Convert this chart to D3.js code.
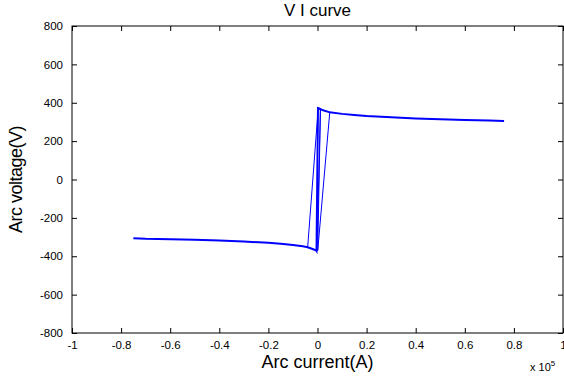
<!DOCTYPE html>
<html>
<head>
<meta charset="utf-8">
<script src="https://cdn.jsdelivr.net/npm/d3@7"></script>
<style>
  body { margin: 0; background: #fff; }
  text { font-family: Arial, "Liberation Sans", sans-serif; }
</style>
</head>
<body>
<div id="chart"></div>
<script>
// data (current in units of 1e5 A, voltage in V)
var branchCurrent = [-0.75, -0.7, -0.6, -0.5, -0.4, -0.3, -0.2, -0.15, -0.1, -0.06, -0.04, -0.02, -0.005,
  -0.004, 0.002, 0.005, 0.02, 0.05, 0.1, 0.15, 0.2, 0.3, 0.4, 0.5, 0.6, 0.7, 0.76];
var branchVoltage = [-306, -309, -311, -314, -318, -323, -330, -335, -341, -348, -353, -362, -370,
  -372, 372, 371, 362, 350, 342, 336, 331, 324, 318, 314, 310, 308, 305];
var riseCurrent = [-0.04, 0.003];
var riseVoltage = [-352, 372];
var fallCurrent = [0.05, 0.001, 0.012, -0.002];
var fallVoltage = [351, -370, 372, -372];

var xTicks = [-1, -0.8, -0.6, -0.4, -0.2, 0, 0.2, 0.4, 0.6, 0.8, 1];
var yTicks = [-800, -600, -400, -200, 0, 200, 400, 600, 800];

var W = 564, H = 380;
var margin = {top: 26, right: 1, bottom: 47, left: 72};
var width = W - margin.left - margin.right,
    height = H - margin.top - margin.bottom;

var svg = d3.select("#chart").append("svg")
  .attr("width", W)
  .attr("height", H);

var g = svg.append("g")
  .attr("transform", "translate(" + margin.left + "," + margin.top + ")");

var x = d3.scaleLinear().domain([-1, 1]).range([0, width]);
var y = d3.scaleLinear().domain([-800, 800]).range([height, 0]);

var plain = function(d) { return String(d); };

// axes, ticks pointing inward like matlab
function styleAxis(sel) {
  sel.select(".domain").remove();
  sel.selectAll(".tick line").attr("stroke", "#000");
  sel.selectAll("text").attr("fill", "#000").style("font-size", "11.5px");
}

g.append("g")
  .attr("transform", "translate(0," + height + ")")
  .call(d3.axisBottom(x).tickValues(xTicks).tickSizeInner(-5).tickSizeOuter(0).tickPadding(8).tickFormat(plain))
  .call(styleAxis);

g.append("g")
  .call(d3.axisTop(x).tickValues(xTicks).tickSizeInner(-5).tickSizeOuter(0).tickFormat(""))
  .call(styleAxis);

g.append("g")
  .call(d3.axisLeft(y).tickValues(yTicks).tickSizeInner(-5).tickSizeOuter(0).tickPadding(9).tickFormat(plain))
  .call(styleAxis);

g.append("g")
  .attr("transform", "translate(" + width + ",0)")
  .call(d3.axisRight(y).tickValues(yTicks).tickSizeInner(-5).tickSizeOuter(0).tickFormat(""))
  .call(styleAxis);

g.append("rect")
  .attr("width", width)
  .attr("height", height)
  .attr("fill", "none")
  .attr("stroke", "#000")
  .attr("stroke-width", 1);

var line = d3.line()
  .x(function(d) { return x(d[0]); })
  .y(function(d) { return y(d[1]); });

g.append("path")
  .datum(d3.zip(riseCurrent, riseVoltage))
  .attr("d", line)
  .attr("fill", "none")
  .attr("stroke", "#0000ff")
  .attr("stroke-width", 1);

g.append("path")
  .datum(d3.zip(fallCurrent, fallVoltage))
  .attr("d", line)
  .attr("fill", "none")
  .attr("stroke", "#0000ff")
  .attr("stroke-width", 1);

g.append("path")
  .datum(d3.zip(branchCurrent, branchVoltage))
  .attr("d", line)
  .attr("fill", "none")
  .attr("stroke", "#0000ff")
  .attr("stroke-width", 2);

// title and labels
svg.append("text")
  .attr("x", margin.left + width / 2)
  .attr("y", 16)
  .attr("text-anchor", "middle")
  .style("font-size", "17px")
  .text("V I curve");

svg.append("text")
  .attr("x", margin.left + width / 2)
  .attr("y", 368)
  .attr("text-anchor", "middle")
  .style("font-size", "18px")
  .text("Arc current(A)");

svg.append("text")
  .attr("transform", "translate(22," + (margin.top + height / 2) + ") rotate(-90)")
  .attr("text-anchor", "middle")
  .style("font-size", "18px")
  .style("letter-spacing", "-0.5px")
  .text("Arc voltage(V)");

var mult = svg.append("text")
  .attr("x", 530)
  .attr("y", 371)
  .style("font-size", "11px")
  .text("x 10");
mult.append("tspan")
  .attr("dy", -5)
  .style("font-size", "8px")
  .text("5");
</script>
</body>
</html>
